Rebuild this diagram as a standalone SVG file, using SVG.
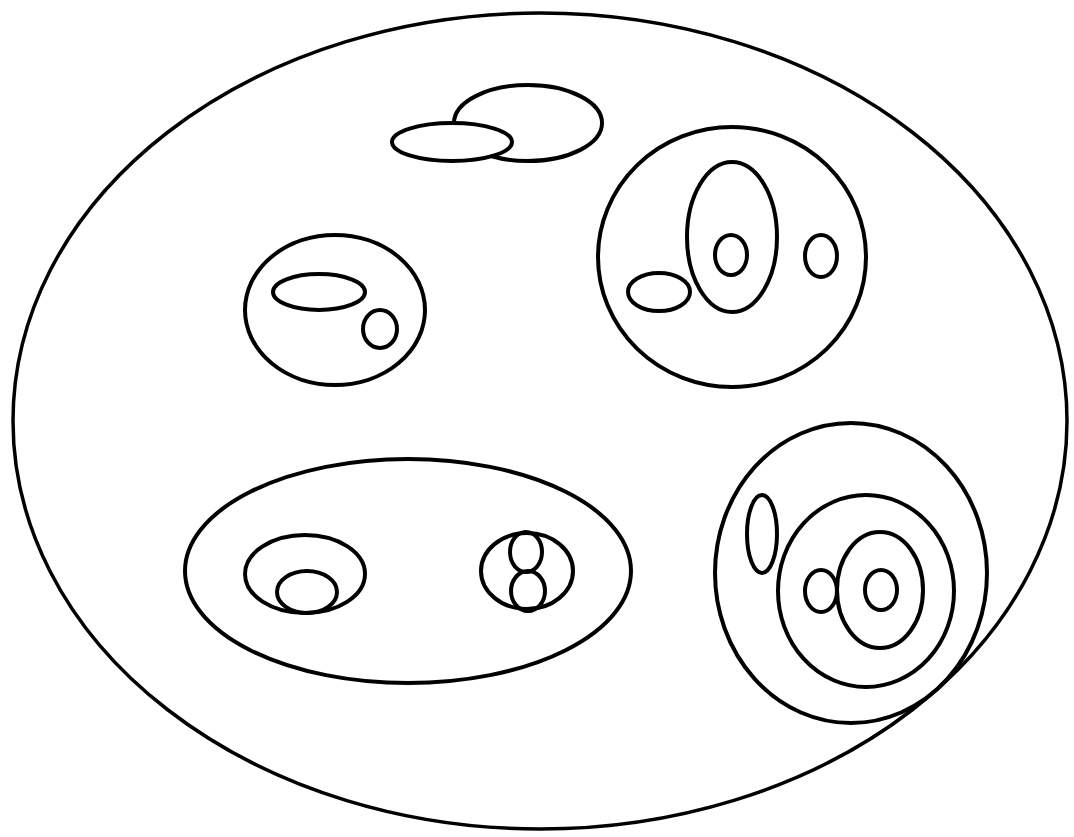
<svg xmlns="http://www.w3.org/2000/svg" width="1074" height="837" viewBox="0 0 1074 837">
<style>
ellipse { fill: none; stroke: #000; stroke-width: 4; }
.top { fill: #fff; }
.big { stroke-width: 3.5; }
</style>
<rect width="1074" height="837" fill="#fff"/>
<g id="universe">
<ellipse class="big" cx="540" cy="421" rx="527" ry="408"/>
</g>
<g id="top-pair">
<ellipse cx="528" cy="123" rx="74" ry="38"/>
<ellipse class="top" cx="452" cy="142" rx="60" ry="19"/>
</g>
<g id="top-right-group">
<ellipse cx="732" cy="257" rx="134" ry="130"/>
<ellipse cx="732" cy="237" rx="45" ry="75"/>
<ellipse cx="731" cy="255" rx="16" ry="20"/>
<ellipse cx="821" cy="256" rx="16" ry="21"/>
<ellipse cx="659" cy="292" rx="31" ry="19"/>
</g>
<g id="left-group">
<ellipse cx="335" cy="310" rx="90" ry="75"/>
<ellipse cx="319" cy="292" rx="46" ry="18"/>
<ellipse cx="380" cy="329" rx="17" ry="19"/>
</g>
<g id="bottom-left-group">
<ellipse cx="408" cy="571" rx="223" ry="112"/>
<ellipse cx="305" cy="574" rx="60" ry="39"/>
<ellipse cx="307" cy="592" rx="30" ry="21"/>
<ellipse cx="527" cy="571" rx="46" ry="38"/>
<ellipse cx="526" cy="552" rx="16" ry="20"/>
<ellipse cx="528" cy="591" rx="17" ry="20"/>
</g>
<g id="bottom-right-group">
<ellipse cx="851" cy="573" rx="136" ry="150"/>
<ellipse cx="866" cy="591" rx="88" ry="96"/>
<ellipse cx="880" cy="590" rx="43" ry="58"/>
<ellipse cx="881" cy="590" rx="16" ry="20"/>
<ellipse cx="821" cy="591" rx="16" ry="21"/>
<ellipse cx="762" cy="534" rx="15" ry="39"/>
</g>
<g id="connectors"/>
</svg>
